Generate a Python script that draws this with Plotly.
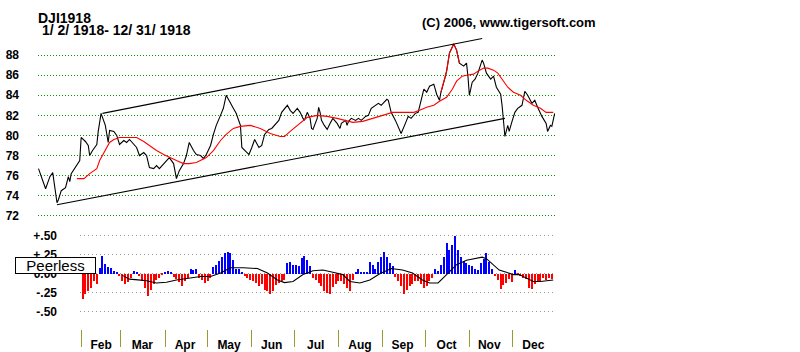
import pandas as pd
import plotly.graph_objects as go

# ---------------- data ----------------
price_dates = [
    "1918-01-02", "1918-01-07", "1918-01-10", "1918-01-12", "1918-01-15", "1918-01-16", "1918-01-18",
    "1918-01-21", "1918-01-23", "1918-01-24", "1918-01-25", "1918-01-29", "1918-01-31",
    "1918-02-01", "1918-02-04", "1918-02-06", "1918-02-07", "1918-02-09", "1918-02-12", "1918-02-13",
    "1918-02-15", "1918-02-18", "1918-02-20", "1918-02-21", "1918-02-24", "1918-02-26", "1918-02-28",
    "1918-03-03", "1918-03-05", "1918-03-07", "1918-03-10", "1918-03-12", "1918-03-14", "1918-03-17",
    "1918-03-19", "1918-03-21", "1918-03-24", "1918-03-26", "1918-03-28", "1918-03-31",
    "1918-04-02", "1918-04-04", "1918-04-07", "1918-04-09", "1918-04-11", "1918-04-14", "1918-04-16",
    "1918-04-18", "1918-04-21", "1918-04-23", "1918-04-26", "1918-04-28", "1918-04-30",
    "1918-05-03", "1918-05-05", "1918-05-07", "1918-05-10", "1918-05-12", "1918-05-14", "1918-05-17",
    "1918-05-19", "1918-05-21", "1918-05-24", "1918-05-25", "1918-05-27", "1918-05-30",
    "1918-06-01", "1918-06-03", "1918-06-06", "1918-06-08", "1918-06-10", "1918-06-13", "1918-06-15",
    "1918-06-17", "1918-06-20", "1918-06-22", "1918-06-24", "1918-06-26", "1918-06-28", "1918-06-30",
    "1918-07-03", "1918-07-05", "1918-07-07", "1918-07-08", "1918-07-10", "1918-07-12", "1918-07-13",
    "1918-07-14", "1918-07-17", "1918-07-18", "1918-07-19", "1918-07-20", "1918-07-22", "1918-07-24",
    "1918-07-26", "1918-07-28", "1918-07-31",
    "1918-08-02", "1918-08-03", "1918-08-06", "1918-08-07", "1918-08-08", "1918-08-10", "1918-08-13",
    "1918-08-15", "1918-08-17", "1918-08-20", "1918-08-22", "1918-08-24", "1918-08-27", "1918-08-29",
    "1918-08-31",
    "1918-09-04", "1918-09-05", "1918-09-07", "1918-09-10", "1918-09-12", "1918-09-14", "1918-09-17",
    "1918-09-19", "1918-09-21", "1918-09-24", "1918-09-26", "1918-09-28", "1918-09-30",
    "1918-10-02", "1918-10-04", "1918-10-07", "1918-10-09", "1918-10-11", "1918-10-12", "1918-10-15",
    "1918-10-16", "1918-10-18", "1918-10-21", "1918-10-23", "1918-10-24", "1918-10-25", "1918-10-28",
    "1918-10-30", "1918-10-31",
    "1918-11-01", "1918-11-03", "1918-11-05", "1918-11-07", "1918-11-10", "1918-11-11", "1918-11-13",
    "1918-11-16", "1918-11-18", "1918-11-20", "1918-11-23", "1918-11-24", "1918-11-25", "1918-11-26",
    "1918-11-28", "1918-11-29",
    "1918-12-01", "1918-12-03", "1918-12-05", "1918-12-08", "1918-12-10", "1918-12-12", "1918-12-15",
    "1918-12-17", "1918-12-19", "1918-12-22", "1918-12-25", "1918-12-26", "1918-12-28", "1918-12-29",
    "1918-12-31",
]
price_values = [
    76.7, 74.7, 75.9, 76.3, 73.3, 73.6, 74.5,
    74.8, 75.9, 75.4, 76.2, 77.0, 77.5,
    79.8, 79.4, 79.0, 78.0, 78.5, 79.1, 80.4,
    82.2, 81.0, 79.3, 80.5, 80.4, 80.0, 79.1,
    79.5, 79.3, 79.6, 79.1, 78.8, 78.0, 78.3,
    78.0, 76.8, 76.7, 77.0, 76.7, 77.2,
    77.5, 77.8, 77.2, 75.7, 76.5, 77.2, 78.0,
    79.3, 78.5, 78.1, 78.0, 77.7, 78.1,
    79.0, 80.1, 81.0, 82.0, 82.7, 84.0, 83.3,
    82.7, 82.2, 81.0, 78.8, 78.5, 78.1,
    78.8, 79.6, 78.8, 79.0, 80.1, 80.6, 80.7,
    81.0, 81.5, 82.3, 82.7, 83.0, 82.5, 82.2,
    82.7, 82.3, 81.7, 81.5, 82.3, 81.7, 80.7,
    80.6, 81.7, 82.8, 82.3, 81.5, 81.0, 80.6,
    81.2, 81.7, 81.2,
    80.7, 81.2, 81.5, 81.0, 81.4, 81.7, 81.5,
    81.7, 81.5, 81.9, 82.0, 82.7, 83.0, 83.2,
    83.0,
    83.6, 83.5, 82.3, 81.5, 80.9, 80.2, 81.2,
    81.9, 81.7, 82.2, 82.3, 83.6, 84.6,
    84.3, 84.9, 85.1, 84.1, 83.5, 84.3, 85.8,
    86.4, 88.2, 89.1, 88.5, 87.8, 87.2, 86.9,
    87.2, 85.9,
    84.0, 85.3, 85.6, 86.2, 87.5, 87.2, 86.2,
    85.6, 85.9, 84.8, 84.1, 83.0, 81.5, 79.9,
    81.0, 80.4,
    81.4, 82.3, 82.7, 83.0, 84.4, 84.0, 83.2,
    83.5, 82.8, 81.9, 81.2, 80.4, 81.0, 80.9,
    82.2,
]

ma_dates = [
    "1918-01-29", "1918-02-03", "1918-02-07", "1918-02-12", "1918-02-14", "1918-02-18", "1918-02-21",
    "1918-02-24", "1918-02-28", "1918-03-05", "1918-03-12", "1918-03-17", "1918-03-21", "1918-03-26",
    "1918-03-31", "1918-04-04", "1918-04-09", "1918-04-14", "1918-04-18", "1918-04-23", "1918-04-28",
    "1918-04-30", "1918-05-05", "1918-05-10", "1918-05-14", "1918-05-19", "1918-05-24", "1918-05-31",
    "1918-06-07", "1918-06-14", "1918-06-21", "1918-06-24", "1918-06-28", "1918-07-05", "1918-07-10",
    "1918-07-17", "1918-07-24", "1918-07-31", "1918-08-07", "1918-08-11", "1918-08-18", "1918-08-25",
    "1918-09-01", "1918-09-08", "1918-09-15", "1918-09-23", "1918-09-27", "1918-10-02", "1918-10-07",
    "1918-10-11", "1918-10-16", "1918-10-20", "1918-10-23", "1918-10-27", "1918-10-30", "1918-11-04",
    "1918-11-07", "1918-11-11", "1918-11-14", "1918-11-18", "1918-11-21", "1918-11-25", "1918-11-28",
    "1918-12-02", "1918-12-07", "1918-12-11", "1918-12-16", "1918-12-21", "1918-12-25", "1918-12-30",
]
ma_values = [
    75.7, 75.7, 76.2, 76.7, 77.5, 78.5, 79.3,
    79.6, 79.8, 79.8, 79.8, 79.4, 79.0, 78.5,
    78.1, 77.8, 77.5, 77.2, 77.2, 77.3, 77.6,
    77.8, 78.5, 79.5, 80.1, 80.7, 80.9, 81.0,
    80.7, 80.2, 79.9, 79.9, 80.4, 81.2, 81.8,
    82.0, 81.9, 81.7, 81.4, 81.3, 81.4, 81.7,
    82.0, 82.3, 82.3, 82.3, 82.5, 82.8, 83.0,
    83.4, 83.8, 84.6, 85.4, 85.9, 86.0, 86.1,
    86.4, 86.7, 86.7, 86.5, 86.2, 85.4, 84.8,
    84.3, 84.0, 83.5, 83.0, 82.7, 82.3, 82.3,
]

# price segment drawn in red in the original (October run-up)
red_segment = ["1918-10-12", "1918-10-25"]

upper_channel_dates = ["1918-02-16", "1918-11-10"]
upper_channel_values = [82.2, 89.65]
lower_channel_dates = ["1918-01-15", "1918-11-26"]
lower_channel_values = [73.1, 81.7]

# Peerless oscillator, one bar every second day starting 2 Feb
osc_start = "1918-02-02"
osc_values = [
    -0.33, -0.27, -0.22, -0.18, -0.10, -0.14, 0.08, 0.23, 0.13, 0.09,
    0.08, 0.04, 0.03, -0.03, -0.10, -0.14, -0.11, -0.06, 0.04, 0.03,
    -0.03, -0.10, -0.18, -0.29, -0.21, -0.13, -0.08, -0.05, -0.02, 0.03,
    0.04, 0.02, -0.04, -0.07, -0.11, -0.16, -0.10, -0.06, 0.07, 0.05,
    0.06, -0.05, -0.08, -0.12, -0.09, -0.05, 0.09, 0.11, 0.17, 0.22,
    0.27, 0.29, 0.28, 0.18, 0.07, 0.07, 0.03, -0.03, -0.05, -0.08,
    -0.10, -0.12, -0.16, -0.14, -0.21, -0.23, -0.26, -0.22, -0.15, -0.12,
    -0.10, -0.08, 0.14, 0.16, 0.11, 0.12, 0.10, 0.21, 0.24, 0.18,
    0.10, -0.05, -0.08, -0.12, -0.16, -0.22, -0.25, -0.27, -0.17, -0.13,
    -0.09, -0.10, -0.14, -0.19, -0.23, -0.08, 0.03, 0.07, 0.03, 0.03,
    0.02, 0.16, 0.11, 0.07, 0.15, 0.22, 0.29, 0.22, 0.14, 0.10,
    -0.04, -0.09, -0.16, -0.26, -0.21, -0.16, -0.13, -0.10, -0.09, -0.14,
    -0.18, -0.16, -0.10, -0.06, 0.06, 0.04, 0.12, 0.22, 0.41, 0.31,
    0.38, 0.50, 0.32, 0.22, 0.17, 0.14, 0.12, 0.10, 0.07, 0.05,
    0.14, 0.20, 0.27, 0.16, 0.07, -0.03, -0.08, -0.20, -0.15, -0.12,
    -0.07, -0.11, 0.05, -0.02, -0.03, -0.05, -0.07, -0.18, -0.20, -0.13,
    -0.09, -0.09, -0.06, -0.08, -0.06, -0.07,
]

sig_dates = [
    "1918-03-02", "1918-03-07", "1918-03-13", "1918-03-19", "1918-03-26", "1918-04-02", "1918-04-09",
    "1918-04-18", "1918-04-26", "1918-05-03", "1918-05-10", "1918-05-17", "1918-05-26", "1918-06-05",
    "1918-06-12", "1918-06-19", "1918-06-24", "1918-06-30", "1918-07-07", "1918-07-14", "1918-07-21",
    "1918-07-28", "1918-08-04", "1918-08-09", "1918-08-16", "1918-08-23", "1918-08-30", "1918-09-07",
    "1918-09-15", "1918-09-22", "1918-09-29", "1918-10-04", "1918-10-10", "1918-10-16", "1918-10-23",
    "1918-10-30", "1918-11-06", "1918-11-10", "1918-11-13", "1918-11-18", "1918-11-22", "1918-11-27",
    "1918-12-02", "1918-12-06", "1918-12-11", "1918-12-16", "1918-12-21", "1918-12-26", "1918-12-30",
]
sig_values = [
    -0.02, -0.07, -0.08, -0.09, -0.12, -0.11, -0.08,
    -0.055, -0.035, -0.035, 0.01, 0.08, 0.08, 0.07,
    0.01, -0.08, -0.115, -0.10, -0.01, 0.04, 0.05,
    0.02, -0.01, -0.10, -0.12, -0.08, 0.0, 0.07,
    0.05, 0.01, -0.08, -0.12, -0.12, -0.01, 0.12,
    0.18, 0.20, 0.22, 0.20, 0.12, 0.05, 0.02,
    -0.01, -0.01, -0.055, -0.10, -0.10, -0.09, -0.08,
]

price_ticks = [72, 74, 76, 78, 80, 82, 84, 86, 88]
osc_ticks = [-0.5, -0.25, 0, 0.25, 0.5]
osc_ticktext = ["-.50", "-.25", "0.00", "+.25", "+.50"]

month_starts = ["1918-02-01", "1918-03-01", "1918-04-01", "1918-05-01", "1918-06-01", "1918-07-01",
                "1918-08-01", "1918-09-01", "1918-10-01", "1918-11-01", "1918-12-01"]
month_label_dates = ["1918-02-15", "1918-03-16", "1918-04-15", "1918-05-16", "1918-06-15", "1918-07-16",
                     "1918-08-16", "1918-09-15", "1918-10-16", "1918-11-15", "1918-12-16"]
month_labels = ["Feb", "Mar", "Apr", "May", "Jun", "Jul", "Aug", "Sep", "Oct", "Nov", "Dec"]

title_line1 = "DJI1918"
title_line2 = " 1/ 2/ 1918- 12/ 31/ 1918"
copyright_text = "(C) 2006, www.tigersoft.com"
box_text = "Peerless"

# ---------------- layout geometry ----------------
W, H = 800, 352
DAY0 = pd.Timestamp("1918-01-02")
X0_PX, PX_PER_DAY = 38.5, 1.422
Y88_PX, PX_PER_PT = 55.5, 10.31
ZERO_PX, PX_PER_OSC = 280.0, 78.0


def px_to_date(px):
    return DAY0 + pd.Timedelta(days=(px - X0_PX) / PX_PER_DAY)


def py_to_price(py):
    return 88 - (py - Y88_PX) / PX_PER_PT


def py_to_osc(py):
    return (ZERO_PX - py) / PX_PER_OSC


def ppx(px):
    return px / W


def ppy(py):
    return 1 - py / H


FONT = "Liberation Sans, Arial, Helvetica, sans-serif"

osc_dates = pd.date_range(osc_start, periods=len(osc_values), freq="2D")
osc_colors = ["#0000ff" if v >= 0 else "#ff0000" for v in osc_values]

seg = [(d, v) for d, v in zip(price_dates, price_values) if red_segment[0] <= d <= red_segment[1]]

fig = go.Figure()
fig.add_trace(go.Scatter(x=price_dates, y=price_values, mode="lines",
                         line=dict(color="black", width=1.1), xaxis="x", yaxis="y"))
fig.add_trace(go.Scatter(x=[d for d, _ in seg], y=[v for _, v in seg], mode="lines",
                         line=dict(color="#ff0000", width=1.1), xaxis="x", yaxis="y"))
fig.add_trace(go.Scatter(x=ma_dates, y=ma_values, mode="lines",
                         line=dict(color="#ff0000", width=1.1), xaxis="x", yaxis="y"))
fig.add_trace(go.Scatter(x=upper_channel_dates, y=upper_channel_values, mode="lines",
                         line=dict(color="black", width=1.1), xaxis="x", yaxis="y"))
fig.add_trace(go.Scatter(x=lower_channel_dates, y=lower_channel_values, mode="lines",
                         line=dict(color="black", width=1.1), xaxis="x", yaxis="y"))

fig.add_trace(go.Bar(x=osc_dates, y=osc_values, marker=dict(color=osc_colors, line=dict(width=0)),
                     width=86400000 * 0.8, xaxis="x2", yaxis="y2"))
fig.add_trace(go.Scatter(x=sig_dates, y=sig_values, mode="lines",
                         line=dict(color="black", width=1.1), xaxis="x2", yaxis="y2"))

tickfont = dict(family=FONT, size=12, color="black", weight=700)

fig.update_layout(
    width=W, height=H, margin=dict(l=0, r=0, t=0, b=0),
    paper_bgcolor="white", plot_bgcolor="white", showlegend=False, bargap=0,
    xaxis=dict(type="date", domain=[ppx(38), ppx(555)], range=[px_to_date(38), px_to_date(555)],
               anchor="y", showticklabels=False, showgrid=False, zeroline=False, ticks=""),
    yaxis=dict(domain=[ppy(230), ppy(20)], range=[py_to_price(230), py_to_price(20)],
               anchor="x", tickmode="array", tickvals=price_ticks, ticks="",
               showgrid=True, gridcolor="#009900", gridwidth=1, griddash="1px,2px",
               zeroline=False, tickfont=tickfont, ticklabelstandoff=18),
    xaxis2=dict(type="date", domain=[ppx(80), ppx(555)], range=[px_to_date(80), px_to_date(555)],
                anchor="y2", tickmode="array", tickvals=month_label_dates, ticktext=month_labels,
                ticks="", showgrid=False, zeroline=False, tickfont=tickfont, ticklabelstandoff=7,
                minor=dict(tickmode="array", tickvals=month_starts, ticks="outside", ticklen=17,
                           tickwidth=1, tickcolor="#9a9a30", showgrid=False)),
    yaxis2=dict(domain=[ppy(337), ppy(235)], range=[py_to_osc(337), py_to_osc(235)],
                anchor="x2", tickmode="array", tickvals=osc_ticks, ticktext=osc_ticktext, ticks="",
                showgrid=True, gridcolor="#999999", gridwidth=1, griddash="1px,3px",
                zeroline=False, tickfont=tickfont, ticklabelstandoff=22),
)

fig.add_annotation(text=f"<b>{title_line1}</b>", xref="paper", yref="paper", x=ppx(36), y=ppy(17.5),
                   xanchor="left", yanchor="middle", showarrow=False,
                   font=dict(family=FONT, size=14, color="black"))
fig.add_annotation(text=f"<b>{title_line2}</b>", xref="paper", yref="paper", x=ppx(36), y=ppy(29.5),
                   xanchor="left", yanchor="middle", showarrow=False,
                   font=dict(family=FONT, size=14, color="black"))
fig.add_annotation(text=f"<b>{copyright_text}</b>", xref="paper", yref="paper", x=ppx(420), y=ppy(22),
                   xanchor="left", yanchor="middle", showarrow=False,
                   font=dict(family=FONT, size=13, color="black"))
fig.add_annotation(text=box_text, xref="paper", yref="paper", x=ppx(55.5), y=ppy(271),
                   xanchor="center", yanchor="middle", showarrow=False, width=77, height=13,
                   bgcolor="white", bordercolor="black", borderwidth=1, borderpad=1,
                   font=dict(family=FONT, size=15, color="black"))

fig.write_html("out.html")
